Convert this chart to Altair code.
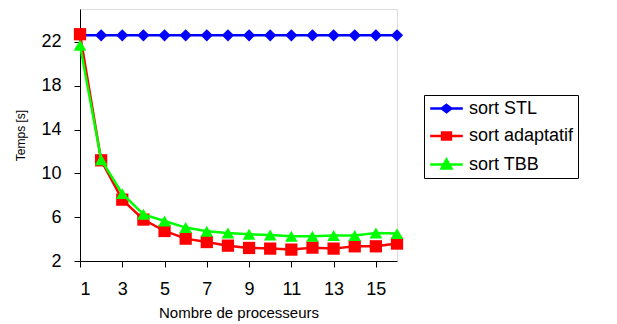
import altair as alt
import pandas as pd

procs = list(range(1, 17))
series_names = ["sort STL", "sort adaptatif", "sort TBB"]
stl = [22.6] * 16
adaptatif = [22.7, 11.19, 7.6, 5.78, 4.74, 4.04, 3.73, 3.4, 3.19, 3.13, 3.04, 3.22, 3.13, 3.34, 3.34, 3.59]
tbb = [21.7, 11.25, 8.15, 6.26, 5.65, 5.05, 4.71, 4.55, 4.44, 4.37, 4.25, 4.25, 4.32, 4.32, 4.55, 4.5]
colors = ["#0000ff", "#ff0000", "#00ff00"]
point_shapes = ["diamond", "square", "triangle-up"]
point_sizes = [150, 150, 160]
legend_paths = [
    "M-2.04,0L2.04,0M0,-0.45L0.6,0L0,0.45L-0.6,0Z",
    "M-2.04,0L2.04,0M-0.55,-0.45L0.55,-0.45L0.55,0.45L-0.55,0.45Z",
    "M-2.04,0L2.04,0M0,-0.62L0.62,0.5L-0.62,0.5Z",
]
x_ticks = [1, 3, 5, 7, 9, 11, 13, 15]
y_ticks = [2, 6, 10, 14, 18, 22]

rows = []
for name, vals in zip(series_names, [stl, adaptatif, tbb]):
    for p, v in zip(procs, vals):
        rows.append({"procs": p, "temps": v, "serie": name})
df = pd.DataFrame(rows)

FONT = "Liberation Sans"

x_enc = alt.X("procs:Q", scale=alt.Scale(domain=[1, 16], nice=False, zero=False),
              axis=alt.Axis(values=x_ticks, title="Nombre de processeurs", grid=False,
                            tickSize=6, labelPadding=13, labelFontSize=18, titleFontSize=15,
                            titleFontWeight="normal", titleY=56, titleBaseline="alphabetic",
                            labelColor="black", titleColor="black", domainColor="black",
                            tickColor="black", labelFont=FONT, titleFont=FONT))
y_enc = alt.Y("temps:Q", scale=alt.Scale(domain=[2, 25], nice=False, zero=False),
              axis=alt.Axis(values=y_ticks, title="Temps [s]", grid=False,
                            tickSize=6, labelPadding=13, labelFontSize=18, titleFontSize=12,
                            titleFontWeight="normal", titleX=-55.7, titleBaseline="alphabetic",
                            labelColor="black", titleColor="black", domainColor="black",
                            tickColor="black", labelFont=FONT, titleFont=FONT))

layers = []
for name, col, shp, sz in zip(series_names, colors, point_shapes, point_sizes):
    base = alt.Chart(df).transform_filter(alt.datum.serie == name)
    layers.append(base.mark_line(strokeWidth=2.5, color=col, clip=False).encode(x=x_enc, y=y_enc))
    layers.append(base.mark_point(shape=shp, filled=True, size=sz, opacity=1, color=col,
                                  clip=False).encode(x=x_enc, y=y_enc))

leg = alt.Legend(title=None, orient="none", legendX=344, legendY=86,
                 labelFontSize=18, labelFont=FONT, labelColor="black",
                 symbolSize=256, symbolStrokeWidth=2.5, symbolOffset=9, labelOffset=13,
                 rowPadding=8.5, padding=4, strokeColor="black", fillColor="white",
                 labelLimit=300)
legend_layer = alt.Chart(df).mark_point(filled=True, size=0, opacity=1).encode(
    x=x_enc, y=y_enc,
    fill=alt.Fill("serie:N", scale=alt.Scale(domain=series_names, range=colors), legend=leg),
    stroke=alt.Stroke("serie:N", scale=alt.Scale(domain=series_names, range=colors), legend=leg),
    shape=alt.Shape("serie:N", scale=alt.Scale(domain=series_names, range=legend_paths), legend=leg),
)
layers.append(legend_layer)

chart = alt.layer(*layers).properties(
    width=317, height=252,
    autosize=alt.AutoSizeParams(type="none"),
    padding={"left": 72, "top": 1, "right": 200, "bottom": 62},
).configure_view(stroke="black", strokeWidth=1).configure(font=FONT)

chart.save("out.html", embed_options={"renderer": "svg", "actions": False})
